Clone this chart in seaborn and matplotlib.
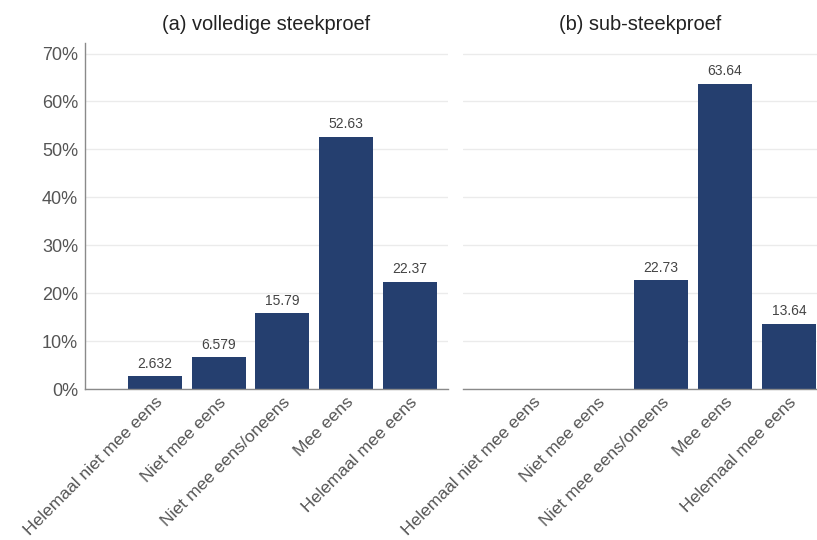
import matplotlib
matplotlib.use("Agg")
import matplotlib.pyplot as plt
import seaborn as sns
import pandas as pd
from matplotlib.ticker import FuncFormatter

categories = ["Helemaal niet mee eens", "Niet mee eens", "Niet mee eens/oneens",
              "Mee eens", "Helemaal mee eens"]
full_values = [2.632, 6.579, 15.79, 52.63, 22.37]
sub_values = [0, 0, 22.73, 63.64, 13.64]
titles = ["(a) volledige steekproef", "(b) sub-steekproef"]
y_ticks = [0, 10, 20, 30, 40, 50, 60, 70]

sns.set_theme(style="white")
plt.rcParams["font.family"] = ["Liberation Sans", "DejaVu Sans"]

bar_color = "#253f6f"
grid_color = "#ebebeb"
axis_color = "#8a8a8a"

fig = plt.figure(figsize=(8.17, 5.40), dpi=100)
W, H = 817, 540
def pos(x0, x1, ytop, ybot):
    return [x0 / W, 1 - ybot / H, (x1 - x0) / W, (ybot - ytop) / H]

ax1 = fig.add_axes(pos(85, 448, 43, 389))
ax2 = fig.add_axes(pos(463, 817, 43, 389))

panels = [(ax1, full_values, (-1.1, 4.6)), (ax2, sub_values, (-1.1, 4.44))]
for i, (ax, vals, xl) in enumerate(panels):
    df = pd.DataFrame({"cat": categories, "val": vals})
    sns.barplot(data=df, x="cat", y="val", order=categories, color=bar_color,
                saturation=1, width=0.85, ax=ax, linewidth=0)
    for p, v in zip(ax.patches, vals):
        if v > 0:
            ax.annotate(format(v, ".4g"), (p.get_x() + p.get_width() / 2, v),
                        xytext=(0, 4), textcoords="offset points",
                        ha="center", va="bottom", fontsize=10, color="#444444")
    ax.set_xlim(*xl)
    ax.set_ylim(0, 72.2)
    ax.set_yticks(y_ticks)
    ax.grid(axis="y", color=grid_color, linewidth=1)
    ax.set_axisbelow(True)
    ax.set_xlabel("")
    ax.set_ylabel("")
    for s in ["top", "right", "left"]:
        ax.spines[s].set_visible(False)
    ax.spines["bottom"].set_color(axis_color)
    ax.spines["bottom"].set_linewidth(1)
    ax.tick_params(axis="both", length=0)
    ax.tick_params(axis="x", pad=4)
    ax.set_xticks(range(len(categories)))
    ax.set_xticklabels(categories, rotation=45, ha="right", rotation_mode="anchor",
                       fontsize=12.6, color="#555555")
    ax.set_title(titles[i], fontsize=14.4, color="#222222", pad=9)

ax1.spines["left"].set_visible(True)
ax1.spines["left"].set_color(axis_color)
ax1.spines["left"].set_linewidth(1)
ax1.yaxis.set_major_formatter(FuncFormatter(lambda v, _: f"{int(v)}%"))
ax1.tick_params(axis="y", labelsize=13, labelcolor="#555555", pad=5)
ax2.set_yticklabels([])

fig.savefig("out.png", dpi=100, facecolor="white")
